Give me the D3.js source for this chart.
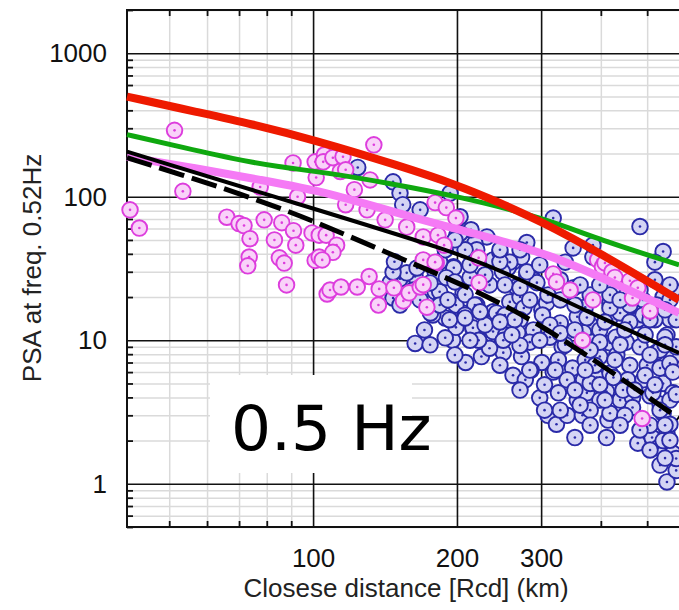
<!DOCTYPE html>
<html>
<head>
<meta charset="utf-8">
<script src="https://cdn.jsdelivr.net/npm/d3@7"></script>
<style>
  html, body { margin: 0; padding: 0; background: #fff; overflow: hidden; }
  text { font-family: "Liberation Sans", Arial, Helvetica, sans-serif; }
</style>
</head>
<body>
<div id="container"></div>
<script>
// Data (distance km, PSA)
const magentaPts = [
  [51.3, 290], [41.4, 81], [43.3, 60.5], [53.4, 109], [66, 72], [70, 65], [71.7, 63],
  [79, 69], [73.8, 51], [73.5, 38], [73, 33], [83, 50], [85, 37.5], [87, 34.5],
  [88, 24.3], [86, 66], [91, 58], [92, 46], [90.8, 172], [92.8, 100], [77.5, 117],
  [99.5, 56], [101, 36], [103, 38], [101, 175], [101.5, 136], [105.6, 196], [103, 54],
  [107, 21], [134, 230], [105, 175], [110, 187], [115.5, 190], [114, 150], [117, 154],
  [131.6, 131], [122, 112], [117, 88], [129.7, 81], [141.5, 69], [157, 61.5], [180, 91],
  [190, 84], [199, 71], [170, 52.5], [182.5, 54], [106.5, 54], [112, 46],
  [108.5, 22.4], [114.4, 23.5], [123.7, 23.5], [131, 27.8], [137.5, 22.8], [147.6, 23.2],
  [137, 17.6], [154.5, 18.8], [158.8, 21.4], [167.5, 23.5], [173, 17], [181, 34.6],
  [170, 36.3], [222.5, 25.2], [110, 41], [104.5, 36.3], [188, 46], [180, 35],
  [170, 24.4], [222, 37.5], [318, 29], [323, 25.5], [345, 22.4], [394, 36.3],
  [403, 32.5], [408, 34.6], [422, 30], [428, 27.4], [460, 26], [478, 23.2], [385, 19.1],
  [466, 19.7], [507, 16], [366, 10], [488, 2.85]
];

const bluePts = [
  [124, 160], [147, 127], [152, 106], [154, 88], [167.5, 81], [200, 54], [231, 52.5],
  [218, 47.5], [214, 58.9], [193.5, 106], [203, 72.5], [350, 44], [385, 38], [289, 26.4],
  [266, 23.5], [163.5, 9.5], [175.7, 9.3], [195.8, 10], [208.5, 7.0], [225, 7.7],
  [216, 12], [199, 12.3], [189, 14.3], [206, 15.5], [220, 17.6], [238, 15.8], [240, 11.5],
  [180, 21.8], [178, 15], [156, 24.3], [147, 19.7], [163.5, 27.8], [196.7, 32.5],
  [206, 21.4], [220, 42.7], [238, 36.3], [231, 25], [195.8, 18.5], [152, 26.8],
  [157, 29.5], [165, 31.9], [180, 30], [186, 20], [199, 17.6], [238, 13.4], [231, 10],
  [145, 25.2], [152, 17.6], [162, 22.4], [147, 29.8], [199, 46], [262, 35], [273, 38],
  [280, 28.5], [294, 25.2], [197, 32], [184, 21.8], [208, 20.8], [218, 17.6],
  [234, 24.3], [242, 15.5], [258, 18.5], [271, 20], [276, 16.8], [301, 16.3], [208, 15],
  [193, 13.9], [216, 12.2], [238, 11.5], [262, 12.4], [289, 11.8], [246, 41], [256, 32],
  [213, 27.3], [190, 27.3], [176, 15.5], [280, 48], [203, 55.7], [318, 71], [483, 62],
  [540, 41.5], [519, 35], [385, 46], [337, 35], [566, 22.4], [540, 20], [351, 23.2],
  [258, 35], [280, 30], [249, 30], [308, 18.2], [371, 17], [418, 18.2], [455, 17],
  [490, 19.1], [524, 17.6], [252, 15.0], [271, 13.9], [302, 15.0], [329, 13.2],
  [357, 14.6], [380, 12.8], [418, 14.3], [439, 15.5], [478, 13.9], [253, 10.9],
  [268, 11.3], [284, 9.7], [313, 10.5], [332, 9.0], [368, 11.3], [385, 9.7], [418, 9.6],
  [452, 9.7], [483, 9.0], [550, 10.9], [524, 8.3], [250, 8.2], [273, 7.7], [301, 7.0],
  [326, 7.3], [349, 6.4], [371, 7.3], [398, 7.7], [432, 7.9], [460, 6.7], [500, 6.7],
  [532, 6.4], [566, 7.7], [262, 5.7], [286, 6.2], [318, 6.0], [340, 5.3], [368, 5.3],
  [392, 5.5], [418, 5.9], [455, 5.3], [490, 5.3], [540, 5.0], [298, 3.97], [326, 4.3],
  [357, 3.83], [374, 4.3], [411, 4.4], [439, 3.83], [466, 3.97], [507, 4.1], [532, 3.6],
  [566, 4.3], [310, 3.0], [323, 2.6], [340, 3.0], [366, 3.0], [353, 2.1], [411, 2.1],
  [414, 2.78], [478, 1.92], [512, 2.1], [527, 1.78], [550, 2.25], [566, 1.63],
  [550, 1.03], [575, 1.24], [425, 23.5], [490, 15.0], [418, 16.8], [460, 13.4],
  [545, 10.5], [374, 14.4], [398, 11.8], [430, 10.5], [532, 8.55], [389, 6.7], [425, 5.5],
  [558, 6.9], [380, 5.0], [445, 4.5], [514, 4.3], [398, 3.83], [558, 3.83], [466, 3.4],
  [380, 3.26], [418, 3.1], [540, 3.1], [558, 14], [575, 9.0], [566, 6.0], [575, 4.2],
  [558, 2.6], [540, 2.0], [575, 1.5], [532, 1.35], [250, 10.0], [271, 9.2], [234, 8.8],
  [222, 10.0], [213, 33.5], [229, 28.6], [252, 24.3], [271, 23.2], [198, 25.5],
  [184, 35.2], [208, 42.7], [246, 35.2], [284, 19.1], [310, 20.7], [329, 19.1],
  [353, 17.6], [380, 20.7], [408, 13.4], [449, 11.8], [495, 10.9], [519, 13.9],
  [418, 20.7], [460, 17.6], [558, 19.1], [575, 13.9], [398, 9.7], [337, 9.3], [313, 12.8],
  [264, 13.9], [229, 12.8], [213, 10.0], [198, 7.9], [246, 6.7], [278, 5.3], [305, 4.9],
  [329, 3.26], [380, 2.56], [408, 3.83], [449, 3.0], [507, 2.56], [532, 3.26],
  [495, 5.7], [428, 7.3], [371, 6.2], [148, 35.2], [167.5, 19.1], [184, 17.6],
  [171, 11.8], [189, 10.4], [189, 42.7], [175.7, 25.1], [191.5, 19.1], [208, 14.3],
  [223.6, 15.8], [246, 13.4], [260.5, 10.9], [298, 10], [329, 11.2], [353, 11.8],
  [380, 8.55], [439, 9.3], [507, 7.9], [545, 9.3], [519, 4.9], [471, 4.5], [398, 4.9],
  [353, 4.5], [321, 6.2], [284, 6.2], [271, 4.5], [305, 3.26], [362, 3.53], [439, 2.56],
  [483, 2.37], [545, 2.56], [507, 1.72], [545, 1.51], [558, 2.01], [198, 50.1],
  [246, 42.7], [271, 42.7], [298, 33.5], [329, 26.4], [362, 24.3], [398, 24.3],
  [439, 19.1], [483, 22.4], [519, 26.4], [558, 24.3], [507, 13.9], [545, 16.3]
];

// Model curves
const redCurve = [[40.8, 499], [58.0, 385], [73.8, 323], [100, 250], [152, 164], [200, 121], [246, 90.8], [301, 67], [398, 40.6], [583, 19.1]];
const greenCurve = [[40.8, 271], [50.2, 231], [69.3, 181], [84.1, 162], [106.9, 147], [142.6, 125], [203, 100], [303, 71.3], [398, 50.1], [583, 33.5]];
const pinkCurve = [[40.8, 190], [56.3, 159], [77.5, 131], [107, 108], [167.5, 69], [246, 50.1], [318, 38.1], [362, 32], [583, 15.5]];
const blackSolid = [[40.8, 206], [107, 77.3], [191, 42.7], [246, 31.0], [368, 16.3], [583, 8.15]];
const blackDashed = [[40.8, 187], [52.2, 145], [73.5, 100], [101.5, 67], [138, 42.7], [246, 19.1], [362, 8.55], [583, 2.85]];

// Ticks
const xMajor = [100, 200, 300];
const xMinor = [50, 60, 70, 80, 90, 400, 500, 600, 700];
const yMajor = [1, 10, 100, 1000];
const yMinor = [0.5, 0.6, 0.7, 0.8, 0.9, 2, 3, 4, 5, 6, 7, 8, 9, 20, 30, 40, 50, 60, 70, 80, 90,
  200, 300, 400, 500, 600, 700, 800, 900, 2000];

// Constants
const width = 679;
const height = 610;
const plotLeft = 127;
const plotRight = 717;
const plotTop = 10;
const plotBottom = 527;

// Scales
const xScale = d3.scaleLog().domain([40.8, 700]).range([plotLeft, plotRight]);
const yScale = d3.scaleLog().domain([0.5, 2000]).range([plotBottom, plotTop]);

const svg = d3
  .select("#container")
  .append("svg")
  .attr("width", width)
  .attr("height", height)
  .style("display", "block");

// Minor grid
const gxMinor = svg
  .append("g")
  .attr("transform", `translate(0,${plotBottom})`)
  .call(d3.axisBottom(xScale).tickValues(xMinor).tickSize(-(plotBottom - plotTop)).tickFormat(""));
const gyMinor = svg
  .append("g")
  .attr("transform", `translate(${plotLeft},0)`)
  .call(d3.axisLeft(yScale).tickValues(yMinor).tickSize(-(plotRight - plotLeft)).tickFormat(""));
[gxMinor, gyMinor].forEach((g) => {
  g.select(".domain").remove();
  g.selectAll("line").attr("stroke", "#dadada").attr("stroke-width", 1.5);
});

// Major grid + labels
const gxMajor = svg
  .append("g")
  .attr("transform", `translate(0,${plotBottom})`)
  .call(d3.axisBottom(xScale).tickValues(xMajor).tickSize(-(plotBottom - plotTop)).tickPadding(22).tickFormat(d3.format("d")));
const gyMajor = svg
  .append("g")
  .attr("transform", `translate(${plotLeft},0)`)
  .call(d3.axisLeft(yScale).tickValues(yMajor).tickSize(-(plotRight - plotLeft)).tickPadding(20).tickFormat(d3.format("d")));
[gxMajor, gyMajor].forEach((g) => {
  g.select(".domain").remove();
  g.selectAll("line").attr("stroke", "#111").attr("stroke-width", 1.6);
  g.selectAll("text")
    .attr("fill", "#111")
    .style("font-size", "26px")
    .style("font-family", '"Liberation Sans", Arial, sans-serif');
});

// Small inward ticks
const ticksY = svg
  .append("g")
  .attr("transform", `translate(${plotLeft},0)`)
  .call(d3.axisLeft(yScale).tickValues(yMinor).tickSize(-6).tickFormat(""));
const ticksTop = svg
  .append("g")
  .attr("transform", `translate(0,${plotTop})`)
  .call(d3.axisTop(xScale).tickValues(xMinor).tickSize(-6).tickFormat(""));
const ticksBottom = svg
  .append("g")
  .attr("transform", `translate(0,${plotBottom})`)
  .call(d3.axisBottom(xScale).tickValues(xMinor).tickSize(-6).tickFormat(""));
[ticksY, ticksTop, ticksBottom].forEach((g) => {
  g.select(".domain").remove();
  g.selectAll("line").attr("stroke", "#111").attr("stroke-width", 1.8);
});

// Frame
svg
  .append("rect")
  .attr("x", plotLeft)
  .attr("y", plotTop)
  .attr("width", plotRight - plotLeft)
  .attr("height", plotBottom - plotTop)
  .attr("fill", "none")
  .attr("stroke", "#111")
  .attr("stroke-width", 2);

// Points
const drawPoints = (pts, stroke, fill) => {
  const g = svg.append("g");
  const p = g.selectAll("g").data(pts).enter().append("g")
    .attr("transform", (d) => `translate(${xScale(d[0])},${yScale(d[1])})`);
  p.append("circle")
    .attr("r", 7.8)
    .attr("fill", fill)
    .attr("stroke", stroke)
    .attr("stroke-width", 1.9);
  p.append("circle")
    .attr("r", 1.3)
    .attr("fill", stroke);
};
drawPoints(bluePts, "#2a2aa8", "#d4d4f4");
drawPoints(magentaPts, "#dd3ddd", "#f9d2f9");

// Lines
const line = d3
  .line()
  .x((d) => xScale(d[0]))
  .y((d) => yScale(d[1]))
  .curve(d3.curveBasis);

const curves = [
  { data: pinkCurve, color: "#f57af5", w: 8, dash: null },
  { data: blackSolid, color: "#000", w: 4, dash: null },
  { data: blackDashed, color: "#000", w: 5, dash: "26,8" },
  { data: greenCurve, color: "#0fa80f", w: 5, dash: null },
  { data: redCurve, color: "#ee1a00", w: 8, dash: null },
];
curves.forEach((c) => {
  svg
    .append("path")
    .datum(c.data)
    .attr("d", line)
    .attr("fill", "none")
    .attr("stroke", c.color)
    .attr("stroke-width", c.w)
    .attr("stroke-dasharray", c.dash);
});

// Axis titles
svg
  .append("text")
  .attr("x", 406)
  .attr("y", 597)
  .attr("text-anchor", "middle")
  .attr("fill", "#222")
  .style("font-size", "26px")
  .text("Closese distance [Rcd] (km)");

svg
  .append("text")
  .attr("transform", "translate(41,268) rotate(-90)")
  .attr("text-anchor", "middle")
  .attr("fill", "#222")
  .style("font-size", "26px")
  .text("PSA at freq. 0.52Hz");

// Frequency label box
svg
  .append("rect")
  .attr("x", 210)
  .attr("y", 375)
  .attr("width", 202)
  .attr("height", 98)
  .attr("fill", "#fff");

svg
  .append("text")
  .attr("x", 231)
  .attr("y", 450)
  .attr("fill", "#000")
  .style("font-family", '"DejaVu Sans", sans-serif')
  .style("font-size", "63px")
  .text("0.5 Hz");
</script>
</body>
</html>
